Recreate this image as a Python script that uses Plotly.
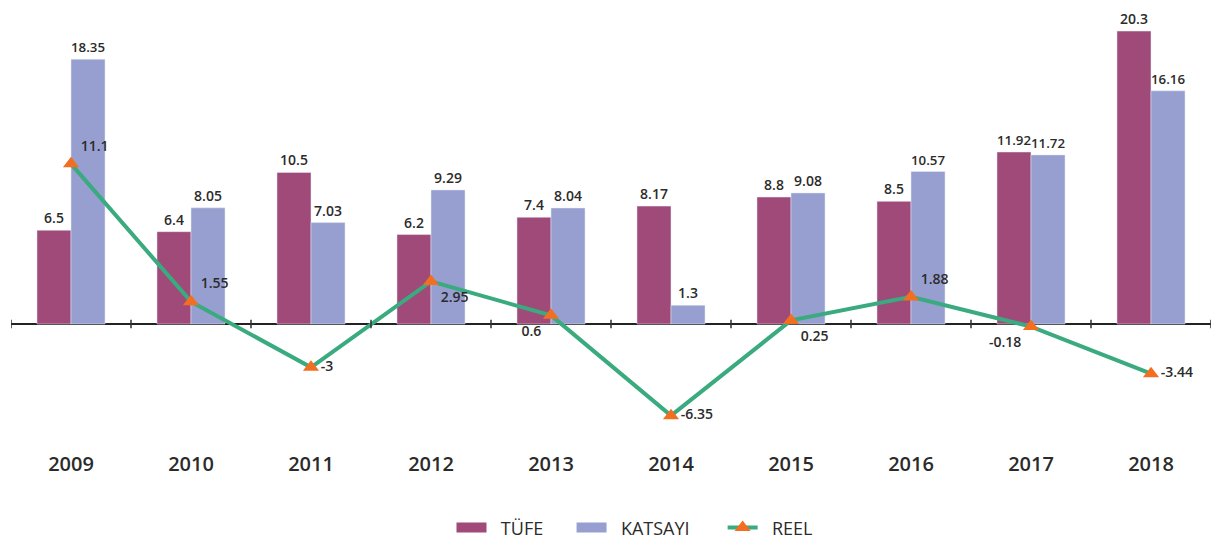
import plotly.graph_objects as go

years = ["2009", "2010", "2011", "2012", "2013", "2014", "2015", "2016", "2017", "2018"]
tufe = [6.5, 6.4, 10.5, 6.2, 7.4, 8.17, 8.8, 8.5, 11.92, 20.3]
katsayi = [18.35, 8.05, 7.03, 9.29, 8.04, 1.3, 9.08, 10.57, 11.72, 16.16]
reel = [11.1, 1.55, -3, 2.95, 0.6, -6.35, 0.25, 1.88, -0.18, -3.44]
reel_pos = ["top right", "top right", "middle right", "bottom right", "bottom left",
            "middle right", "bottom right", "top right", "bottom left", "middle right"]

FONT = "Open Sans, Lato, sans-serif"
TXT = "#2b2b2b"
C_TUFE = "#A04A79"
C_KAT = "#979FD0"
C_LINE = "#3AAA7F"
C_MARK = "#F26F21"
LBL = dict(family=FONT, size=14, color=TXT, weight=600)
NB = "\u00a0"

fig = go.Figure()
fig.add_trace(go.Bar(
    name="TÜFE", x=years, y=tufe, marker_color=C_TUFE, showlegend=False,
    text=[str(v) for v in tufe], textposition="outside", cliponaxis=False,
    textfont=LBL,
))
fig.add_trace(go.Bar(
    name="KATSAYI", x=years, y=katsayi, marker_color=C_KAT, showlegend=False,
    text=[str(v) for v in katsayi], textposition="outside", cliponaxis=False,
    textfont=LBL,
))
fig.add_trace(go.Scatter(
    name="REEL", x=years, y=reel, mode="lines+markers+text", showlegend=False,
    line=dict(color=C_LINE, width=4),
    marker=dict(symbol="triangle-up", size=14, color=C_MARK),
    text=[str(v) for v in reel], textposition=reel_pos, cliponaxis=False,
    textfont=LBL,
))

# legend entries (wide swatches like the reference)
fig.add_trace(go.Scatter(name=NB * 2 + "TÜFE" + NB * 5, x=[None], y=[None], mode="lines",
                         line=dict(color=C_TUFE, width=10)))
fig.add_trace(go.Scatter(name=NB * 2 + "KATSAYI" + NB * 6, x=[None], y=[None], mode="lines",
                         line=dict(color=C_KAT, width=10)))
fig.add_trace(go.Scatter(name=NB * 2 + "REEL", x=[None], y=[None], mode="lines+markers",
                         line=dict(color=C_LINE, width=4),
                         marker=dict(symbol="triangle-up", size=14, color=C_MARK)))

# category boundary tick marks on the zero line
shapes = []
for i in range(len(years) + 1):
    shapes.append(dict(type="line", xref="x", yref="y", x0=i - 0.5, x1=i - 0.5,
                       y0=-0.3, y1=0.3, line=dict(color="#333", width=1.5)))

fig.update_layout(
    width=1218, height=540,
    margin=dict(l=11, r=7, t=10, b=90, autoexpand=False),
    paper_bgcolor="white", plot_bgcolor="white",
    barmode="group", bargap=0.433, bargroupgap=0,
    shapes=shapes,
    legend=dict(orientation="h", x=0.52, xanchor="center", y=-0.177, yanchor="middle",
                font=dict(family=FONT, size=18, color=TXT, weight=400),
                traceorder="normal", itemwidth=30),
    font=dict(family=FONT, color=TXT),
)
fig.update_xaxes(range=[-0.5, 9.5], showgrid=False, showline=False, ticks="",
                 automargin=False,
                 tickfont=dict(family=FONT, size=20, color=TXT, weight=600))
fig.update_yaxes(range=[-8.73, 21.76], showgrid=False, showticklabels=False,
                 automargin=False,
                 zeroline=True, zerolinecolor="#222", zerolinewidth=2)

fig.write_html("out.html", config={"displayModeBar": False},
               post_script="document.body.style.margin='0';document.body.style.overflow='hidden';")
